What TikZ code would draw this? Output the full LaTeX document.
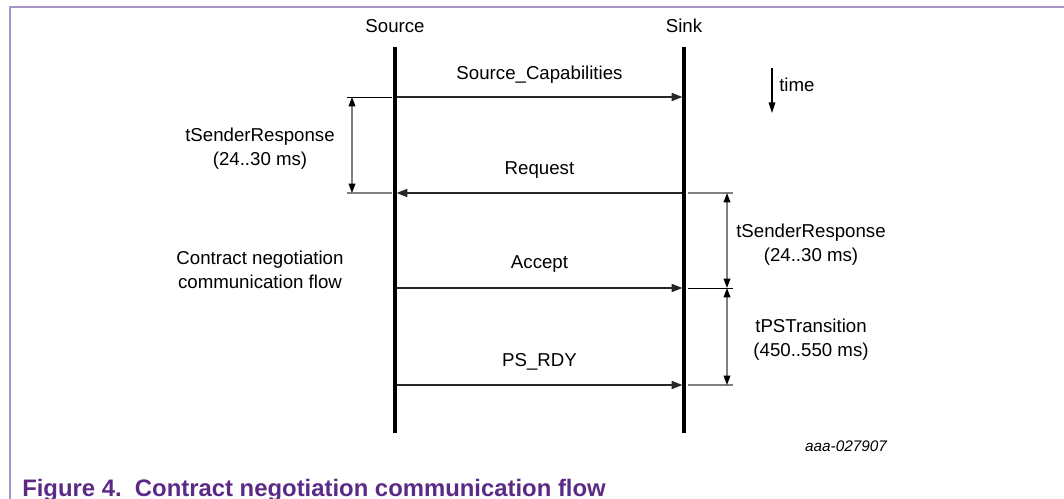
\documentclass[tikz,border=0pt]{standalone}
\usepackage{fontspec}
\setmainfont{Liberation Sans}
\usetikzlibrary{arrows.meta}
\definecolor{framec}{HTML}{A794C9}
\definecolor{capc}{HTML}{5B2A86}
\definecolor{dimc}{HTML}{808080}
\begin{document}
\begin{tikzpicture}[x=0.75pt,y=-0.75pt,
  txt/.style={inner sep=0pt,align=center,font=\fontsize{14}{18}\selectfont},
  lifeline/.style={line width=2.3pt,black},
  msg/.style={line width=1.1pt,black!85,-{Triangle[length=8pt,width=6pt]},shorten >=1.2pt,shorten <=1.2pt},
  dimarrow/.style={line width=1.1pt,dimc,{Triangle[length=7pt,width=5pt,color=black]}-{Triangle[length=7pt,width=5pt,color=black]}},
  extl/.style={line width=0.8pt,dimc},
  extb/.style={line width=0.7pt,black}]
\useasboundingbox (0,0) rectangle (1064,499);
% frame
\draw[framec,line width=1.2pt] (10,499) -- (10,7) -- (1064,7);
% lifelines
\node[txt] (srclab) at (395,26) {Source};
\node[txt] (snklab) at (684,26) {Sink};
\coordinate (st) at (395,47);
\coordinate (sb) at (395,433);
\coordinate (kt) at (684,47);
\coordinate (kb) at (684,433);
\draw[lifeline] (st) -- (sb);
\draw[lifeline] (kt) -- (kb);
% message points
\coordinate (s1) at (395,97);  \coordinate (k1) at (684,97);
\coordinate (s2) at (395,193); \coordinate (k2) at (684,193);
\coordinate (s3) at (395,288); \coordinate (k3) at (684,288);
\coordinate (s4) at (395,385); \coordinate (k4) at (684,385);
\draw[msg] (s1) -- (k1);
\draw[msg] (k2) -- (s2);
\draw[msg] (s3) -- (k3);
\draw[msg] (s4) -- (k4);
\node[txt] (m1) at (539.5,75) {Source\_Capabilities};
\node[txt] (m2) at (539.5,170) {Request};
\node[txt] (m3) at (539.5,264) {Accept};
\node[txt] (m4) at (539.5,362) {PS\_RDY};
% left dimension
\coordinate (le1a) at (347,97);  \coordinate (le1b) at (392,97);
\coordinate (le2a) at (347,193); \coordinate (le2b) at (392,193);
\draw[extb] (le1a) -- (le1b);
\draw[extl] (le2a) -- (le2b);
\coordinate (ld1) at (352,97); \coordinate (ld2) at (352,193);
\draw[dimarrow] (ld1) -- (ld2);
\node[txt] (ltsr) at (260,149) {tSenderResponse\\(24..30 ms)};
% right dimension
\coordinate (re1a) at (688,193); \coordinate (re1b) at (733,193);
\coordinate (re2a) at (688,288); \coordinate (re2b) at (733,288);
\coordinate (re3a) at (688,385); \coordinate (re3b) at (733,385);
\draw[extl] (re1a) -- (re1b);
\draw[extb] (re2a) -- (re2b);
\draw[extl] (re3a) -- (re3b);
\coordinate (rd1) at (727,193); \coordinate (rd2) at (727,288); \coordinate (rd3) at (727,385);
\draw[dimarrow] (rd1) -- (rd2);
\draw[dimarrow] (rd2) -- (rd3);
\node[txt] (rtsr) at (811,245) {tSenderResponse\\(24..30 ms)};
\node[txt] (rtps) at (811,340) {tPSTransition\\(450..550 ms)};
% time arrow
\coordinate (ta) at (772,68); \coordinate (tb) at (772,113);
\draw[line width=0.8pt,-{Triangle[length=8pt,width=5pt]}] (ta) -- (tb);
\node[txt,anchor=west] (time) at (779,85) {time};
% side label
\node[txt] (flow) at (260,269.5) {Contract negotiation\\communication flow};
% id
\node[inner sep=0pt,font=\fontsize{11.5}{13}\selectfont\itshape] (id) at (846,446) {aaa-027907};
% caption
\node[inner sep=0pt,anchor=base west,text=capc,font=\fontsize{17.9}{20}\selectfont\bfseries] (cap) at (22,496) {Figure 4.\ \ Contract negotiation communication flow};
\end{tikzpicture}
\end{document}
